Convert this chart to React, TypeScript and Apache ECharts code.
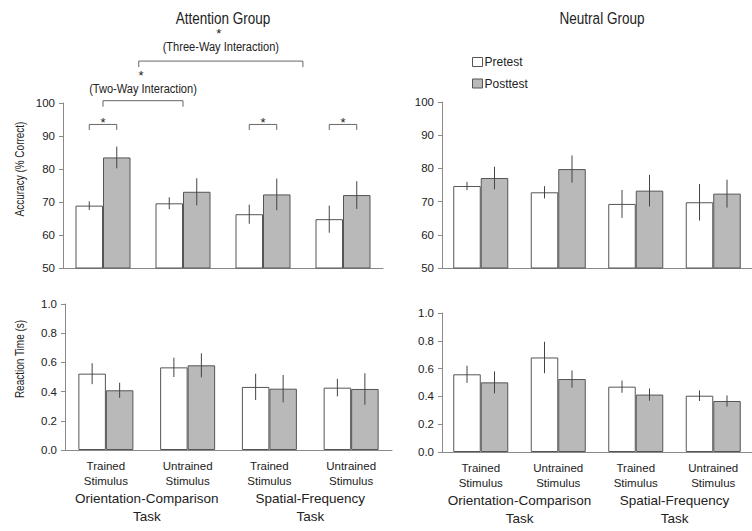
import React, { useEffect, useRef } from "react";
import * as echarts from "echarts";

const categories = ["Trained\nStimulus", "Untrained\nStimulus", "Trained\nStimulus", "Untrained\nStimulus"];
const taskLabels = ["Orientation-Comparison\nTask", "Spatial-Frequency\nTask"];
const seriesNames = ["Pretest", "Posttest"];
const panelTitles = ["Attention Group", "Neutral Group"];
const yNames = ["Accuracy (% Correct)", "Reaction Time (s)"];

// Accuracy (% correct) — Attention group
const attAccPre = [68.9, 69.6, 66.3, 64.8];
const attAccPreErr = [1.3, 1.8, 2.9, 4.1];
const attAccPost = [83.5, 73.1, 72.3, 72.1];
const attAccPostErr = [3.3, 4.1, 4.8, 4.2];
// Accuracy — Neutral group
const neuAccPre = [74.7, 72.8, 69.3, 69.8];
const neuAccPreErr = [1.25, 1.85, 4.2, 5.5];
const neuAccPost = [77.1, 79.8, 73.3, 72.4];
const neuAccPostErr = [3.4, 4.1, 4.75, 4.2];
// Reaction time (s) — Attention group
const attRtPre = [0.523, 0.566, 0.432, 0.427];
const attRtPreErr = [0.072, 0.066, 0.09, 0.06];
const attRtPost = [0.409, 0.58, 0.42, 0.418];
const attRtPostErr = [0.052, 0.082, 0.094, 0.108];
// Reaction time — Neutral group
const neuRtPre = [0.559, 0.68, 0.47, 0.405];
const neuRtPreErr = [0.062, 0.113, 0.044, 0.038];
const neuRtPost = [0.501, 0.525, 0.413, 0.367];
const neuRtPostErr = [0.079, 0.062, 0.044, 0.04];

// Significance annotations on the Attention accuracy panel
const brackets = [
  { fromCat: 0, fromSide: -1, toCat: 0, toSide: 1, y: 93.5, leg: 5.5, star: "*", label: "", labelDy: 0, starDy: 2 },
  { fromCat: 2, fromSide: -1, toCat: 2, toSide: 1, y: 93.5, leg: 5.5, star: "*", label: "", labelDy: 0, starDy: 2 },
  { fromCat: 3, fromSide: -1, toCat: 3, toSide: 1, y: 93.5, leg: 5.5, star: "*", label: "", labelDy: 0, starDy: 2 },
  { fromCat: 0, fromSide: 0, toCat: 1, toSide: 0, y: 100.7, leg: 6, star: "*", label: "(Two-Way Interaction)", labelDy: 11.7, starDy: 25 },
  { fromCat: 0, fromSide: 2.6, toCat: 2, toSide: 2.9, y: 112.7, leg: 6, star: "*", label: "(Three-Way Interaction)", labelDy: 14.3, starDy: 28 },
];

const FONT = '"Liberation Sans", Arial, Helvetica, sans-serif';
const BAR_W = 27.5;
const AXIS_COLOR = "#8a8a8a";
const TEXT_COLOR = "#222";
const NARROW = 0.82;

export default function App() {
  const ref = useRef<HTMLDivElement>(null);

  useEffect(() => {
    if (!ref.current) return;
    const chart = echarts.init(ref.current, undefined, { renderer: "svg" });

    const grids = [
      { left: 63, top: 103, width: 320, height: 165 },
      { left: 442, top: 102, width: 322, height: 166 },
      { left: 65, top: 304, width: 327, height: 146 },
      { left: 442, top: 313, width: 320, height: 139 },
    ];

    const panels = [
      { pre: attAccPre, preErr: attAccPreErr, post: attAccPost, postErr: attAccPostErr, min: 50, max: 100, interval: 10, dec: 0, showCats: false },
      { pre: neuAccPre, preErr: neuAccPreErr, post: neuAccPost, postErr: neuAccPostErr, min: 50, max: 100, interval: 10, dec: 0, showCats: false },
      { pre: attRtPre, preErr: attRtPreErr, post: attRtPost, postErr: attRtPostErr, min: 0, max: 1, interval: 0.2, dec: 1, showCats: true },
      { pre: neuRtPre, preErr: neuRtPreErr, post: neuRtPost, postErr: neuRtPostErr, min: 0, max: 1, interval: 0.2, dec: 1, showCats: true },
    ];

    const xAxis: any[] = [];
    const yAxis: any[] = [];
    const series: any[] = [];

    panels.forEach((p, gi) => {
      xAxis.push({
        type: "category",
        gridIndex: gi,
        data: categories,
        axisLine: { show: true, lineStyle: { color: AXIS_COLOR, width: 1 } },
        axisTick: { show: false },
        axisLabel: {
          show: p.showCats,
          interval: 0,
          margin: 8,
          fontFamily: FONT,
          fontSize: 11.5,
          lineHeight: 15.5,
          color: TEXT_COLOR,
        },
      });
      xAxis.push({
        type: "category",
        gridIndex: gi,
        position: "bottom",
        offset: 40,
        data: taskLabels,
        axisLine: { show: false },
        axisTick: { show: false },
        axisLabel: {
          show: p.showCats,
          interval: 0,
          margin: 0,
          fontFamily: FONT,
          fontSize: 13.5,
          lineHeight: 17.5,
          color: TEXT_COLOR,
        },
      });
      yAxis.push({
        type: "value",
        gridIndex: gi,
        min: p.min,
        max: p.max,
        interval: p.interval,
        splitLine: { show: false },
        axisLine: { show: true, lineStyle: { color: AXIS_COLOR, width: 1 } },
        axisTick: { show: true, length: 4, inside: false, lineStyle: { color: AXIS_COLOR } },
        axisLabel: {
          margin: 8,
          fontFamily: FONT,
          fontSize: 11.5,
          color: TEXT_COLOR,
          formatter: (v: number) => v.toFixed(p.dec),
        },
      });

      const xi = gi * 2;
      series.push({
        name: seriesNames[0],
        type: "bar",
        xAxisIndex: xi,
        yAxisIndex: gi,
        data: p.pre,
        barWidth: BAR_W,
        barGap: "0%",
        itemStyle: { color: "#ffffff", borderColor: "#555", borderWidth: 1 },
      });
      series.push({
        name: seriesNames[1],
        type: "bar",
        xAxisIndex: xi,
        yAxisIndex: gi,
        data: p.post,
        barWidth: BAR_W,
        barGap: "0%",
        itemStyle: { color: "#b9b9b9", borderColor: "#555", borderWidth: 1 },
      });

      const errSeries = (means: number[], errs: number[], side: number) => ({
        type: "custom",
        xAxisIndex: xi,
        yAxisIndex: gi,
        silent: true,
        clip: false,
        z: 10,
        data: means.map((m, i) => [i, m - errs[i], m + errs[i]]),
        renderItem: (params: any, api: any) => {
          const lo = api.coord([api.value(0), api.value(1)]);
          const hi = api.coord([api.value(0), api.value(2)]);
          const x = lo[0] + (side * BAR_W) / 2;
          return {
            type: "line",
            shape: { x1: x, y1: lo[1], x2: x, y2: hi[1] },
            style: { stroke: "#444", lineWidth: 1 },
          };
        },
      });
      series.push(errSeries(p.pre, p.preErr, -1));
      series.push(errSeries(p.post, p.postErr, 1));
    });

    // Annotation brackets on attention accuracy panel
    series.push({
      type: "custom",
      xAxisIndex: 0,
      yAxisIndex: 0,
      silent: true,
      clip: false,
      z: 20,
      data: brackets.map((b, i) => [b.fromCat, b.y, i]),
      renderItem: (params: any, api: any) => {
        const b = brackets[params.dataIndex];
        const p1 = api.coord([b.fromCat, b.y]);
        const p2 = api.coord([b.toCat, b.y]);
        const x1 = p1[0] + (b.fromSide * BAR_W) / 2;
        const x2 = p2[0] + (b.toSide * BAR_W) / 2;
        const y = p1[1];
        const cx = (x1 + x2) / 2;
        const children: any[] = [
          {
            type: "polyline",
            shape: { points: [[x1, y + b.leg], [x1, y], [x2, y], [x2, y + b.leg]] },
            style: { stroke: "#666", lineWidth: 1, fill: "none" },
          },
        ];
        if (b.label) {
          children.push({
            type: "text",
            x: cx,
            y: y - b.labelDy,
            scaleX: NARROW,
            style: { text: b.label, align: "center", verticalAlign: "middle", font: `13.5px ${FONT}`, fill: TEXT_COLOR },
          });
        }
        children.push({
          type: "text",
          x: b.label ? cx - 2 : cx,
          y: y - b.starDy,
          style: { text: b.star, align: "center", verticalAlign: "middle", font: `13px ${FONT}`, fill: "#222222" },
        });
        return { type: "group", children };
      },
    });

    const option: any = {
      animation: false,
      backgroundColor: "#ffffff",
      grid: grids.map((g) => ({ ...g, containLabel: false })),
      xAxis,
      yAxis,
      series,
      legend: {
        orient: "vertical",
        left: 472,
        top: 56,
        padding: 0,
        itemWidth: 10,
        itemHeight: 9,
        itemGap: 9.5,
        icon: "rect",
        selectedMode: false,
        textStyle: { fontFamily: FONT, fontSize: 12, color: TEXT_COLOR, padding: [0, 0, 0, -3] },
        data: [
          { name: seriesNames[0], itemStyle: { color: "#ffffff", borderColor: "#555", borderWidth: 1 } },
          { name: seriesNames[1], itemStyle: { color: "#b9b9b9", borderColor: "#555", borderWidth: 1 } },
        ],
      },
      graphic: [
        {
          type: "text",
          x: (grids[0].left + grids[0].left + grids[0].width) / 2,
          y: 18,
          scaleX: NARROW,
          style: { text: panelTitles[0], align: "center", verticalAlign: "middle", font: `16.5px ${FONT}`, fill: TEXT_COLOR },
        },
        {
          type: "text",
          x: 602,
          y: 18,
          scaleX: NARROW,
          style: { text: panelTitles[1], align: "center", verticalAlign: "middle", font: `16.5px ${FONT}`, fill: TEXT_COLOR },
        },
        {
          type: "text",
          x: 20,
          y: 169,
          rotation: Math.PI / 2,
          scaleX: 0.8,
          style: { text: yNames[0], align: "center", verticalAlign: "middle", font: `12.5px ${FONT}`, fill: TEXT_COLOR },
        },
        {
          type: "text",
          x: 20,
          y: 359,
          rotation: Math.PI / 2,
          scaleX: 0.8,
          style: { text: yNames[1], align: "center", verticalAlign: "middle", font: `12.5px ${FONT}`, fill: TEXT_COLOR },
        },
      ],
    };

    chart.setOption(option);
    return () => chart.dispose();
  }, []);

  return (
    <div
      ref={ref}
      style={{ position: "fixed", left: 0, top: 0, width: 752, height: 531, background: "#fff" }}
    />
  );
}
